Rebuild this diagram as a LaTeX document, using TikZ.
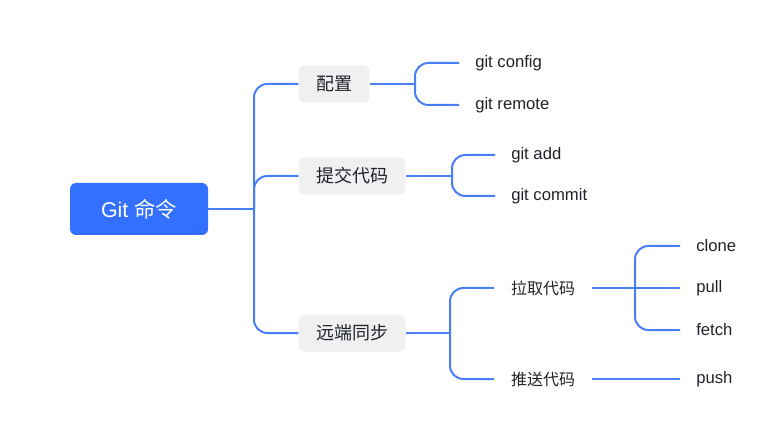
\documentclass[tikz,border=0pt]{standalone}
\usepackage{fontspec}
\setmainfont{Liberation Sans}
\newfontfamily\cjk{Noto Sans CJK SC}
\usetikzlibrary{positioning}
\definecolor{feishublue}{RGB}{51,112,255}
\definecolor{linkblue}{RGB}{72,126,247}
\definecolor{boxgray}{RGB}{239,240,241}
\definecolor{inkgray}{RGB}{31,35,41}
\tikzset{
  rootbox/.style={fill=feishublue, text=white, rounded corners=4.5pt, minimum width=103.5pt, minimum height=39pt, font=\fontsize{16}{19}\selectfont},
  topicbox/.style={fill=boxgray, text=inkgray, rounded corners=4.5pt, inner xsep=13pt, minimum height=27.75pt, font=\cjk\fontsize{13.5}{16}\selectfont},
  subtopic/.style={text=inkgray, inner xsep=12.5pt, font=\cjk\fontsize{12}{14}\selectfont},
  leaf/.style={anchor=west, text=inkgray, inner xsep=12pt, font=\fontsize{12.5}{15}\selectfont},
  link/.style={draw=linkblue, line width=1.5pt, rounded corners=10pt}
}

\begin{document}
\begin{tikzpicture}[x=0.75pt, y=-0.75pt]
            \useasboundingbox (0,0) rectangle (777,427);
            % root and first level
            \node[rootbox] (root) at (139,209) {Git {\cjk 命令}};
            \node[topicbox] (peizhi) at (334,84) {配置};
            \node[topicbox] (tijiao) at (352,176) {提交代码};
            \node[topicbox] (yuanduan) at (352,333) {远端同步};
            \node[subtopic] (laqu) at (543,288) {拉取代码};
            \node[subtopic] (tuisong) at (543,379) {推送代码};
            % junctions
            \coordinate (j0) at (254,209);
            \coordinate (j1) at (415,84);
            \coordinate (j2) at (452,176);
            \coordinate (j3) at (450,333);
            \coordinate (j4) at (635,288);
            % leaves
            \foreach \n/\x/\y/\txt in {gconfig/459/63/git config, gremote/459/105/git remote,
                                       gadd/495/155/git add, gcommit/495/196/git commit,
                                       clone/680/246/clone, pull/680/288/pull,
                                       fetch/680/330/fetch, push/680/379/push} {
                \node[leaf] (\n) at (\x,\y) {\txt};
            }
            % connectors
            \draw[link] (root.east) -- (j0);
            \foreach \t in {peizhi, tijiao, yuanduan}
                \draw[link] (j0) |- (\t.west);
            \draw[link] (peizhi.east) -- (j1);
            \foreach \l in {gconfig, gremote}
                \draw[link] (j1) |- (\l.west);
            \draw[link] (tijiao.east) -- (j2);
            \foreach \l in {gadd, gcommit}
                \draw[link] (j2) |- (\l.west);
            \draw[link] (yuanduan.east) -- (j3);
            \foreach \l in {laqu, tuisong}
                \draw[link] (j3) |- (\l.west);
            \draw[link] (laqu.east) -- (pull.west);
            \foreach \l in {clone, fetch}
                \draw[link] (j4) |- (\l.west);
            \draw[link] (tuisong.east) -- (push.west);
        \end{tikzpicture}
\end{document}
